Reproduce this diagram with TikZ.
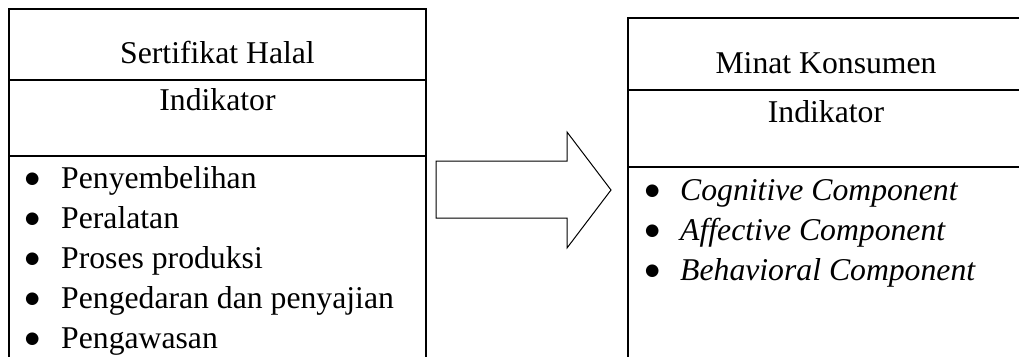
\documentclass[tikz,border=0pt]{standalone}
\usepackage{fontspec}
\setmainfont{Liberation Serif}
\newfontfamily\symfont{DejaVu Sans}
% list bullet: a solid disc followed by the hanging indent
\newcommand{\bul}[1]{\makebox[#1][l]{\raisebox{4.5pt}{\symfont\fontsize{16.5}{18}\selectfont ●}}}
\begin{document}
\begin{tikzpicture}[x=1pt,y=-1pt,
  frame/.style={draw=black,line width=1.3pt},
  txt/.style={inner sep=0pt,anchor=base,font=\fontsize{31.7}{38}\selectfont},
  item/.style={txt,anchor=base west},
  blockarrow/.style={draw=black,line width=1pt,fill=white,line join=miter}]
\useasboundingbox (0,0) rectangle (1019,356);
\begin{scope}
\clip (0,0) rectangle (1019,356);
% left variable box
\draw[frame] (9,370) -- (9,9) -- (426,9) -- (426,370);
\draw[frame] (9,80) -- (426,80);
\draw[frame] (9,156) -- (426,156);
% right variable box
\draw[frame] (628,370) -- (628,18) -- (1030,18);
\draw[frame] (628,90) -- (1030,90);
\draw[frame] (628,167) -- (1030,167);
\end{scope}
% left box texts
\node[txt] (lt) at (217.5,63) {Sertifikat Halal};
\node[txt] (li) at (217.5,110) {Indikator};
\foreach \t [count=\i] in {Penyembelihan,Peralatan,Proses produksi,Pengedaran dan penyajian,Pengawasan}{
  \node[item] (l\i) at (25,148+40*\i) {\bul{36pt}\t};
}
% right box texts
\node[txt] (rt) at (826,73) {Minat Konsumen};
\node[txt] (ri) at (826,122) {Indikator};
\foreach \t [count=\i] in {Cognitive Component,Affective Component,Behavioral Component}{
  \node[item] (r\i) at (645,160+40*\i) {\bul{35pt}\itshape\t};
}
% block arrow between the boxes
\draw[blockarrow] (436,161) -- (567,161) -- (567,132) -- (611,190) -- (567,248) -- (567,218) -- (436,218) -- cycle;
\end{tikzpicture}
\end{document}
